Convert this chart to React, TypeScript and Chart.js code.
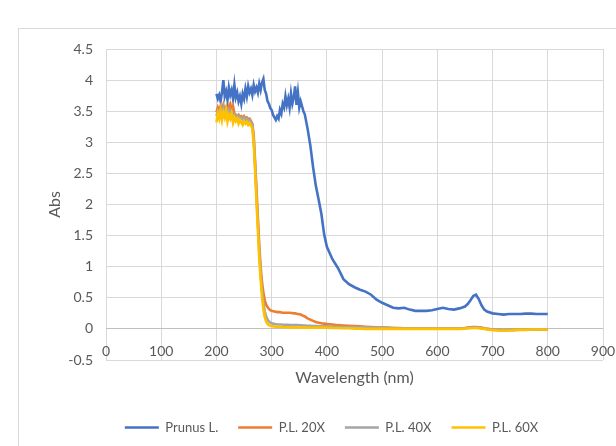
import React, { useEffect, useRef } from "react";
import { Chart, registerables } from "chart.js";

Chart.register(...registerables);

const wavelengths = [
  200, 202.5, 205, 207.5, 210, 212.5, 215, 217.5, 220, 222.5, 225, 227.5, 230, 232.5, 235, 237.5,
  240, 242.5, 245, 247.5, 250, 252.5, 255, 257.5, 260, 262.5, 265, 267.5, 270, 272.5, 275, 277.5,
  280, 282.5, 285, 287.5, 290, 292.5, 295, 297.5, 300, 302.5, 305, 307.5, 310, 312.5, 315, 317.5,
  320, 322.5, 325, 327.5, 330, 332.5, 335, 337.5, 340, 342.5, 345, 347.5, 350, 352.5, 355, 357.5, 360,
  365, 370, 375, 380, 385, 390, 395, 400,
  410, 420, 430, 440, 450, 460, 470, 480, 490, 500, 510, 520, 530, 540, 550, 560, 570, 580, 590, 600,
  610, 620, 630, 640,
  650, 655, 660, 665, 670, 675, 680, 685, 690,
  700, 710, 720, 730, 740, 750, 760, 770, 780, 790, 800,
];

const prunus = [
  3.78, 3.7, 3.76, 3.66, 3.8, 4.0, 3.74, 3.82, 3.68, 3.88, 3.76, 3.84, 3.7, 3.92, 3.72, 3.8,
  3.66, 3.74, 3.62, 3.78, 3.7, 3.86, 3.74, 3.9, 3.8, 3.86, 3.76, 3.92, 3.82, 3.88, 3.8, 3.94,
  3.84, 3.96, 4.02, 3.84, 3.78, 3.66, 3.62, 3.55, 3.52, 3.44, 3.4, 3.36, 3.42, 3.38, 3.52, 3.46,
  3.62, 3.56, 3.74, 3.6, 3.7, 3.56, 3.78, 3.62, 3.72, 3.9, 3.6, 3.8, 3.56, 3.66, 3.58, 3.5, 3.45,
  3.22, 2.95, 2.6, 2.3, 2.08, 1.85, 1.52, 1.32,
  1.12, 0.98, 0.8, 0.72, 0.67, 0.63, 0.6, 0.55, 0.47, 0.42, 0.38, 0.34, 0.33, 0.34, 0.31, 0.29, 0.29, 0.29, 0.3, 0.32,
  0.34, 0.32, 0.31, 0.33,
  0.36, 0.4, 0.46, 0.53, 0.55, 0.48, 0.38, 0.31, 0.28,
  0.25, 0.24, 0.23, 0.24, 0.24, 0.24, 0.245, 0.245, 0.24, 0.24, 0.24,
];

const pl20x = [
  3.48, 3.56, 3.5, 3.58, 3.52, 3.6, 3.5, 3.56, 3.48, 3.58, 3.62, 3.52, 3.58, 3.46, 3.44, 3.42,
  3.44, 3.4, 3.42, 3.39, 3.42, 3.38, 3.4, 3.37, 3.38, 3.34, 3.3, 3.1, 2.7, 2.25, 1.8, 1.35,
  1.0, 0.75, 0.58, 0.46, 0.39, 0.35, 0.32, 0.3, 0.29, 0.285, 0.28, 0.275, 0.27, 0.27, 0.27, 0.265,
  0.26, 0.26, 0.26, 0.26, 0.26, 0.26, 0.255, 0.255, 0.25, 0.25, 0.245, 0.24, 0.235, 0.23, 0.22, 0.21, 0.2,
  0.17, 0.15, 0.13, 0.11, 0.1, 0.09, 0.085, 0.08,
  0.07, 0.06, 0.055, 0.05, 0.045, 0.04, 0.035, 0.03, 0.025, 0.02, 0.02, 0.015, 0.015, 0.01, 0.01, 0.01, 0.01, 0.01, 0.01, 0.01,
  0.01, 0.01, 0.01, 0.01,
  0.015, 0.02, 0.025, 0.03, 0.03, 0.025, 0.02, 0.01, 0.0,
  -0.01, -0.015, -0.02, -0.015, -0.015, -0.01, -0.01, -0.01, -0.01, -0.01, -0.01,
];

const pl40x = [
  3.42, 3.5, 3.46, 3.54, 3.48, 3.56, 3.46, 3.52, 3.44, 3.52, 3.48, 3.5, 3.46, 3.42, 3.44, 3.4,
  3.42, 3.38, 3.4, 3.37, 3.4, 3.36, 3.38, 3.35, 3.36, 3.32, 3.28, 3.05, 2.62, 2.15, 1.7, 1.25,
  0.9, 0.62, 0.42, 0.28, 0.2, 0.15, 0.12, 0.1, 0.09, 0.085, 0.08, 0.075, 0.07, 0.07, 0.07, 0.07,
  0.068, 0.066, 0.065, 0.065, 0.064, 0.063, 0.062, 0.061, 0.06, 0.06, 0.06, 0.06, 0.058, 0.057, 0.056, 0.055, 0.055,
  0.05, 0.05, 0.045, 0.045, 0.04, 0.04, 0.04, 0.04,
  0.035, 0.035, 0.03, 0.03, 0.03, 0.025, 0.025, 0.02, 0.02, 0.02, 0.015, 0.015, 0.01, 0.01, 0.01, 0.01, 0.01, 0.01, 0.01, 0.01,
  0.01, 0.01, 0.01, 0.01,
  0.01, 0.015, 0.02, 0.02, 0.02, 0.02, 0.015, 0.01, 0.0,
  -0.01, -0.015, -0.02, -0.015, -0.015, -0.01, -0.01, -0.01, -0.01, -0.01, -0.01,
];

const pl60x = [
  3.32, 3.46, 3.38, 3.5, 3.36, 3.48, 3.4, 3.52, 3.34, 3.44, 3.38, 3.46, 3.32, 3.4, 3.34, 3.38,
  3.3, 3.36, 3.32, 3.28, 3.34, 3.3, 3.33, 3.28, 3.31, 3.27, 3.22, 2.98, 2.55, 2.05, 1.6, 1.15,
  0.8, 0.52, 0.32, 0.19, 0.12, 0.08, 0.06, 0.05, 0.045, 0.04, 0.038, 0.035, 0.033, 0.032, 0.03, 0.03,
  0.03, 0.028, 0.027, 0.026, 0.025, 0.025, 0.025, 0.024, 0.023, 0.022, 0.022, 0.021, 0.02, 0.02, 0.02, 0.02, 0.02,
  0.02, 0.02, 0.02, 0.02, 0.02, 0.02, 0.02, 0.02,
  0.015, 0.015, 0.01, 0.01, 0.005, 0.005, 0.0, 0.0, 0.0, 0.0, 0.0, 0.0, 0.0, 0.0, 0.0, 0.0, 0.0, 0.0, 0.0, 0.0,
  0.0, 0.0, 0.0, 0.0,
  0.005, 0.01, 0.01, 0.015, 0.015, 0.01, 0.005, 0.0, -0.01,
  -0.02, -0.025, -0.03, -0.025, -0.02, -0.015, -0.015, -0.01, -0.01, -0.01, -0.01,
];

const seriesNames = ["Prunus L.", "P.L. 20X", "P.L. 40X", "P.L. 60X"];
const seriesColors = ["#4472C4", "#ED7D31", "#A5A5A5", "#FFC000"];
const seriesValues = [prunus, pl20x, pl40x, pl60x];

const xTickLabels = [0, 100, 200, 300, 400, 500, 600, 700, 800, 900];
const yMin = -0.5;
const yMax = 4.5;

const FONT = "Lato, 'Open Sans', sans-serif";
const TEXT = "#595959";

export default function App() {
  const ref = useRef<HTMLCanvasElement | null>(null);

  useEffect(() => {
    if (!ref.current) return;

    const xLabelsPlugin = {
      id: "xLabelsInside",
      afterDraw(chart: any) {
        const { ctx } = chart;
        const xs = chart.scales.x;
        const ys = chart.scales.y;
        const y = ys.getPixelForValue(yMin) - 9;
        ctx.save();
        ctx.font = `14px ${FONT}`;
        ctx.fillStyle = TEXT;
        ctx.textAlign = "center";
        ctx.textBaseline = "middle";
        xTickLabels.forEach((v) => {
          ctx.fillText(String(v), xs.getPixelForValue(v), y);
        });
        ctx.restore();
      },
    };

    const legendShift = {
      id: "legendShift",
      afterLayout(chart: any) {
        const lg = chart.legend;
        if (lg) {
          lg.left += 30;
          lg.right += 30;
        }
      },
    };

    const datasets = seriesNames.map((name, i) => ({
      label: name,
      data: wavelengths.map((w, j) => ({ x: w, y: seriesValues[i][j] })),
      borderColor: seriesColors[i],
      backgroundColor: seriesColors[i],
      borderWidth: 2.6,
      pointRadius: 0,
      tension: 0,
      fill: false,
      order: seriesNames.length - 1 - i,
    }));

    const chart = new Chart(ref.current, {
      type: "line",
      data: { datasets },
      options: {
        animation: false,
        responsive: false,
        layout: { padding: { left: 0, right: 13, top: 49, bottom: 2 } },
        plugins: {
          tooltip: { enabled: false },
          legend: {
            position: "bottom",
            labels: {
              usePointStyle: true,
              pointStyle: "line",
              pointStyleWidth: 34,
              padding: 20,
              color: TEXT,
              font: { family: FONT, size: 13 },
              sort: (a: any, b: any) => a.datasetIndex - b.datasetIndex,
            },
          },
        },
        scales: {
          x: {
            type: "linear",
            min: 0,
            max: 900,
            afterFit: (s: any) => {
              s.height = 41;
            },
            ticks: { display: false, stepSize: 100 },
            grid: { color: "#d9d9d9", lineWidth: 1, drawTicks: false },
            border: { display: false },
            title: {
              display: true,
              text: "Wavelength (nm)",
              color: TEXT,
              font: { family: FONT, size: 16 },
              padding: { top: 0, bottom: 14 },
            },
          },
          y: {
            type: "linear",
            min: yMin,
            max: yMax,
            afterFit: (s: any) => {
              s.width = 106;
            },
            ticks: {
              stepSize: 0.5,
              padding: 13,
              color: TEXT,
              font: { family: FONT, size: 14 },
              callback: (v: any) => String(Math.round(Number(v) * 10) / 10),
            },
            grid: {
              color: (c: any) => (c.tick && c.tick.value === 0 ? "#bfbfbf" : "#d9d9d9"),
              lineWidth: 1,
              drawTicks: false,
            },
            border: { display: false },
            title: {
              display: true,
              text: "Abs",
              color: TEXT,
              font: { family: FONT, size: 16 },
              padding: { top: 45, bottom: 0 },
            },
          },
        },
      },
      plugins: [xLabelsPlugin, legendShift],
    });

    return () => chart.destroy();
  }, []);

  return (
    <div
      style={{
        position: "absolute",
        left: 0,
        top: 0,
        width: 616,
        height: 446,
        overflow: "hidden",
        background: "#ffffff",
      }}
    >
      <div
        style={{
          position: "absolute",
          left: 18,
          top: 28,
          width: 700,
          height: 500,
          border: "1px solid #d9d9d9",
        }}
      />
      <canvas
        ref={ref}
        width={616}
        height={446}
        style={{ position: "absolute", left: 0, top: 0 }}
      />
    </div>
  );
}
